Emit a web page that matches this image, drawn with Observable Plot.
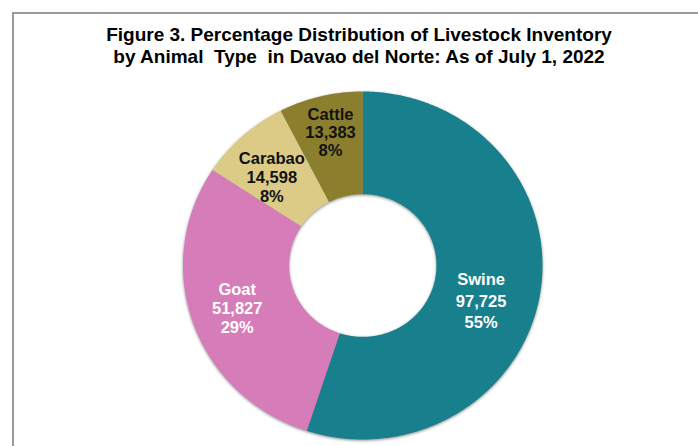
<!DOCTYPE html>
<html>
<head>
<meta charset="utf-8">
<script src="https://cdn.jsdelivr.net/npm/d3@7"></script>
<script src="https://cdn.jsdelivr.net/npm/@observablehq/plot@0.6"></script>
<style>
  html, body { margin: 0; padding: 0; background: #fff; }
  #wrap { position: relative; width: 698px; height: 446px; overflow: hidden; background: #fff;
          font-family: "Liberation Sans", Arial, sans-serif; }
  #frame { position: absolute; left: 12px; top: 12px; width: 720px; height: 460px;
           border-left: 2px solid #9a9a9a; border-top: 2px solid #9a9a9a; box-sizing: border-box; }
  #title { position: absolute; left: 0; width: 718px; top: 24px; text-align: center;
           font-weight: bold; font-size: 19px; line-height: 22px; color: #000; }
  #chart { position: absolute; left: 0; top: 0; }
  #chart g[aria-label="line"] { filter: drop-shadow(0px 1px 1.5px rgba(0,0,0,0.45)); }
</style>
</head>
<body>
<div id="wrap">
  <div id="frame"></div>
  <div id="chart"></div>
  <div id="title">Figure 3. Percentage Distribution of Livestock Inventory<br>by Animal&nbsp; Type&nbsp; in Davao del Norte: As of July 1, 2022</div>
</div>
<script>
const categories = ["Swine", "Goat", "Carabao", "Cattle"];
const values = [97725, 51827, 14598, 13383];
const sliceColors = ["#17808c", "#d67cb9", "#dccb87", "#8b7f2d"];
const labelColors = ["#ffffff", "#ffffff", "#111111", "#111111"];

const innerRatio = 0.41;
const labelRadius = 0.74;

const total = d3.sum(values);
const pie = d3.pie().sort(null).value(d => d.value).startAngle(0).endAngle(2 * Math.PI);
const slices = pie(categories.map((name, i) => ({name, value: values[i], color: sliceColors[i], labelColor: labelColors[i]})));

// ring polygons built from the pie angles
const ringPoints = [];
for (const s of slices) {
  const n = Math.max(2, Math.ceil((s.endAngle - s.startAngle) / (Math.PI / 360)));
  const outer = [], inner = [];
  for (let k = 0; k <= n; k++) {
    const a = s.startAngle + (s.endAngle - s.startAngle) * k / n;
    outer.push({name: s.data.name, color: s.data.color, x: Math.sin(a), y: Math.cos(a)});
    inner.push({name: s.data.name, color: s.data.color, x: innerRatio * Math.sin(a), y: innerRatio * Math.cos(a)});
  }
  ringPoints.push(...outer, ...inner.reverse());
}

const fmt = d3.format(",");
const labels = slices.map(s => {
  const a = (s.startAngle + s.endAngle) / 2;
  return {
    name: s.data.name,
    x: labelRadius * Math.sin(a),
    y: labelRadius * Math.cos(a),
    text: `${s.data.name}\n${fmt(s.data.value)}\n${Math.round(100 * s.data.value / total)}%`,
    color: s.data.labelColor
  };
});

const labelMark = (name, dx, dy, lh) => Plot.text(labels.filter(d => d.name === name), {
  x: "x", y: "y", text: "text", fill: "color", dx, dy,
  fontSize: 16.5, fontWeight: "bold", lineHeight: lh, textAnchor: "middle",
  fontFamily: "Liberation Sans, Arial, sans-serif"
});

const chart = Plot.plot({
  width: 698,
  height: 446,
  margin: 0,
  x: {domain: [-1, 1], range: [182.5, 542], axis: null},
  y: {domain: [-1, 1], range: [439, 91], axis: null},
  color: {type: "identity"},
  style: {background: "transparent", overflow: "visible"},
  marks: [
    Plot.line(ringPoints, {x: "x", y: "y", z: "name", fill: "color", stroke: "none", curve: "linear"}),
    labelMark("Swine", -13, 14, 1.3),
    labelMark("Goat", 0, 0, 1.15),
    labelMark("Carabao", -2, 7, 1.15),
    labelMark("Cattle", -1, -8, 1.1)
  ]
});
document.getElementById("chart").appendChild(chart);
</script>
</body>
</html>
